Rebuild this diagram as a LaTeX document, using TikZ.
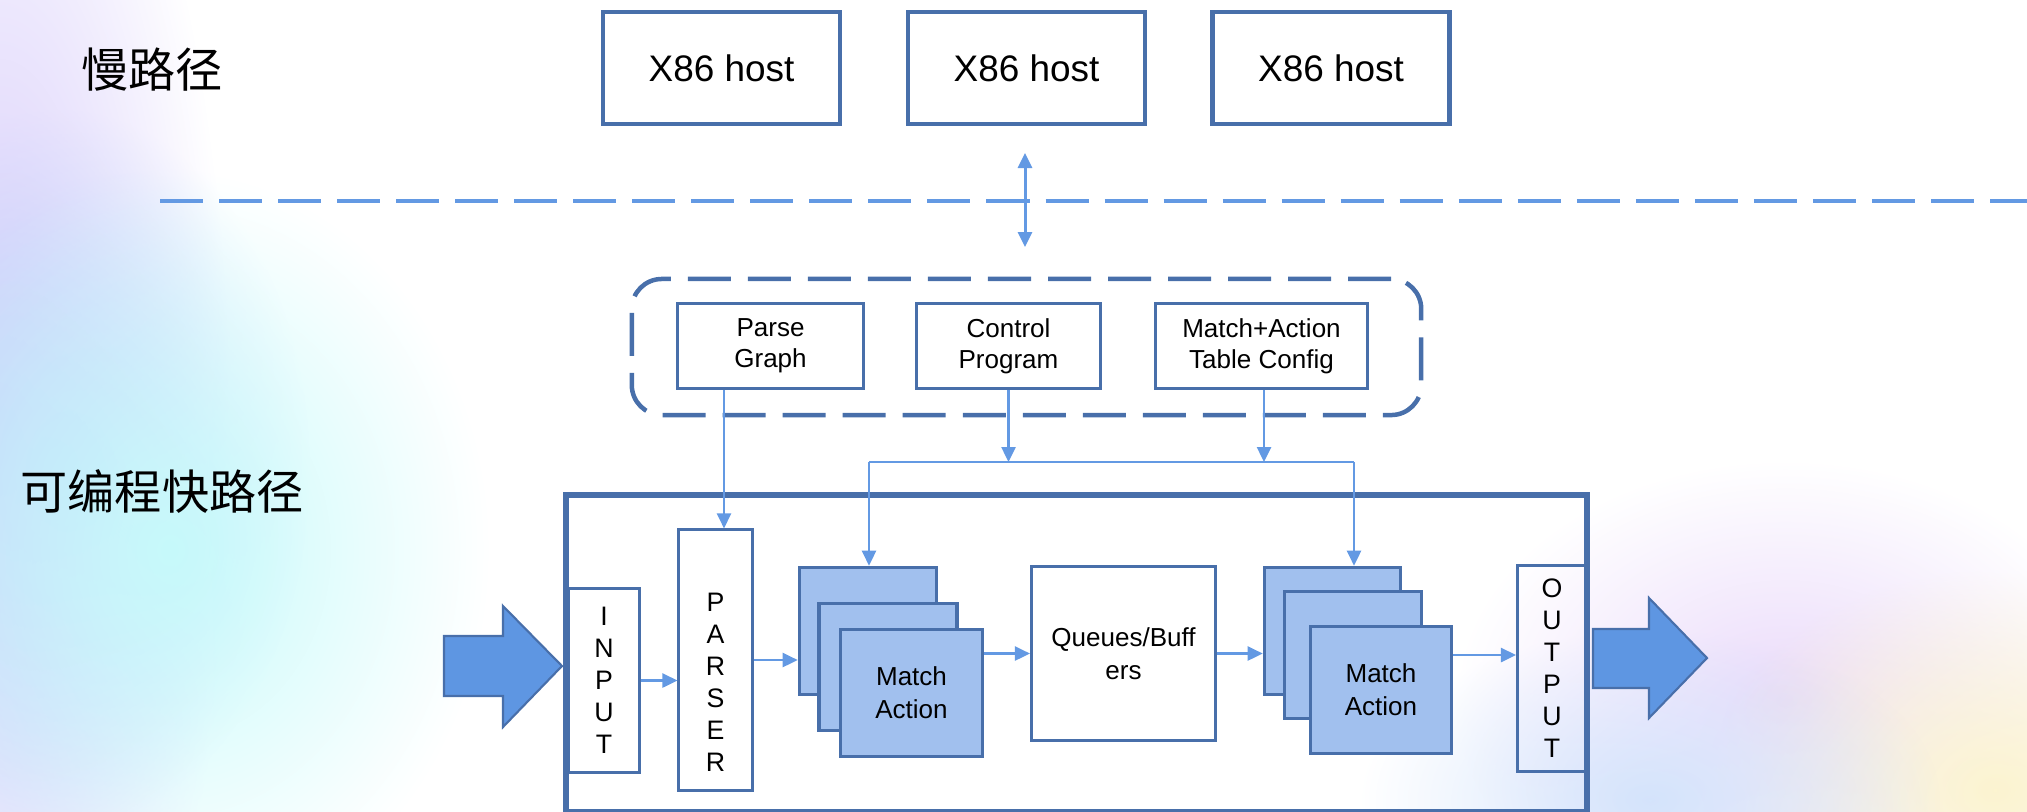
\documentclass[tikz,border=0pt]{standalone}
\usepackage{fontspec}
\setmainfont{Liberation Sans}
\newfontfamily\cjk{Noto Sans CJK SC}
\usetikzlibrary{arrows.meta,fadings}
\tikzfading[name=softblob, inner color=transparent!0, outer color=transparent!100]
\tikzset{flowtip/.tip={Triangle[length=0.15cm,width=0.14cm]}}

\definecolor{frameblue}{RGB}{72,111,170}
\definecolor{linkblue}{RGB}{99,153,227}
\definecolor{cardblue}{RGB}{161,192,238}
\definecolor{bigarrow}{RGB}{94,150,226}

\begin{document}
\begin{tikzpicture}[x=0.01cm,y=-0.01cm,
  haze/.style={path fading=softblob, draw=none},
  title/.style={font=\cjk\fontsize{13.4}{16}\selectfont, inner sep=0pt},
  hostbox/.style={draw=frameblue, line width=1.25pt, minimum width=2.37cm,
    minimum height=1.12cm, inner sep=0pt, font=\fontsize{10.5}{12}\selectfont},
  cfgbox/.style={draw=frameblue, line width=0.95pt, minimum height=0.85cm,
    inner sep=0pt, align=center, font=\fontsize{7.4}{8.8}\selectfont},
  unitbox/.style={draw=frameblue, line width=0.85pt, inner sep=0pt,
    align=center, font=\fontsize{7.4}{9.5}\selectfont},
  card/.style={draw=frameblue, line width=1pt, fill=cardblue, minimum height=1.27cm,
    inner sep=0pt, align=center, font=\fontsize{7.4}{9.3}\selectfont},
  letters/.style={font=\fontsize{7.6}{9.1}\selectfont, align=center, inner sep=0pt},
  conn/.style={draw=linkblue, line width=0.7pt, -{flowtip}},
  link/.style={draw=linkblue, line width=0.7pt},
  blockarrow/.style={fill=bigarrow, draw=frameblue, line width=0.6pt, line join=miter}
]
\useasboundingbox (0,0) rectangle (2027,811);

% soft background tint of the slide
\fill[haze, color={rgb,255:red,212;green,200;blue,250}] (0,440) ellipse (230 and 760);
\fill[haze, color={rgb,255:red,196;green,218;blue,252}] (60,470) ellipse (250 and 360);
\fill[haze, color={rgb,255:red,198;green,250;blue,250}] (170,550) ellipse (320 and 380);
\fill[haze, color={rgb,255:red,234;green,218;blue,250}] (1785,700) ellipse (330 and 240);
\fill[haze, color={rgb,255:red,252;green,244;blue,208}] (1995,790) ellipse (290 and 220);
\fill[haze, color={rgb,255:red,212;green,228;blue,252}] (1650,800) ellipse (290 and 170);

% section titles
\node[title] (slow) at (152,70) {慢路径};
\node[title] (fast) at (162,492) {可编程快路径};

% slow path hosts
\node[hostbox] (h1) at (721.5,68) {X86 host};
\node[hostbox] (h2) at (1026.5,68) {X86 host};
\node[hostbox] (h3) at (1331,68) {X86 host};

% divider between slow and fast path
\coordinate (divl) at (160,201);
\coordinate (divr) at (2027,201);
\draw[linkblue, line width=1.28pt, dash pattern=on 0.43cm off 0.16cm] (divl) -- (divr);

% link across the divider
\coordinate (syncT) at (1025,153);
\coordinate (syncB) at (1025,247);
\draw[link, line width=0.85pt, {flowtip}-{flowtip}] (syncB) -- (syncT);

% control plane configuration
\node[draw=frameblue, line width=1.28pt, rounded corners=0.3cm,
  dash pattern=on 0.43cm off 0.17cm, minimum width=7.89cm, minimum height=1.36cm,
  inner sep=0pt] (cfg) at (1026.5,347) {};
\node[cfgbox, minimum width=1.86cm] (pg) at (770.5,346) {Parse\\Graph};
\node[cfgbox, minimum width=1.84cm] (cp) at (1008.5,346) {Control\\Program};
\node[cfgbox, minimum width=2.12cm] (mt) at (1261.5,346) {Match+Action\\Table Config};

% programmable switch pipeline
\node[draw=frameblue, line width=1.56pt, minimum width=10.2cm, minimum height=3.17cm,
  inner sep=0pt] (chip) at (1076.5,653.5) {};

\node[unitbox, minimum width=0.7cm, minimum height=1.83cm, letters] (input) at (604,680.5)
  {I\\N\\P\\U\\T};
\node[unitbox, minimum width=0.73cm, minimum height=2.6cm,
  label={[letters, yshift=-0.22cm]center:P\\A\\R\\S\\E\\R}] (parser) at (715.5,660) {};

\node[card, minimum width=1.37cm] (ma1a) at (868,631) {};
\node[card, minimum width=1.38cm] (ma1b) at (888,667) {};
\node[card, minimum width=1.42cm] (ma1c) at (911.5,693) {Match\\Action};

\node[unitbox, minimum width=1.84cm, minimum height=1.74cm] (queues) at (1123.5,653.5)
  {Queues/Buff\\ers};

\node[card, minimum width=1.36cm] (ma2a) at (1332.5,631) {};
\node[card, minimum width=1.37cm] (ma2b) at (1353,655) {};
\node[card, minimum width=1.41cm] (ma2c) at (1381,690) {Match\\Action};

\node[unitbox, minimum width=0.69cm, minimum height=2.06cm, letters] (output) at (1552,668.5)
  {O\\U\\T\\P\\U\\T};

% packets in and out
\draw[blockarrow] (444,636) -- (503,636) -- (503,606) -- (562,666) -- (503,727)
  -- (503,696) -- (444,696) -- cycle;
\draw[blockarrow] (1593,629) -- (1649,629) -- (1649,598) -- (1707,658) -- (1649,718)
  -- (1649,688) -- (1593,688) -- cycle;

% configuration links
\coordinate (busl) at (869,462);
\coordinate (busr) at (1354,462);
\draw[conn] (724,0 |- pg.south) -- (724,0 |- parser.north);
\draw[conn] (cp.south) -- (cp.south |- busl);
\draw[conn] (1264,0 |- mt.south) -- (1264,0 |- busl);
\draw[link] (busl) -- (busr);
\draw[conn] (busl) -- (busl |- ma1a.north);
\draw[conn] (busr) -- (busr |- ma2a.north);

% packet flow through the pipeline
\draw[conn] (input.east) -- (input.east -| parser.west);
\draw[conn] (parser.east) -- (parser.east -| ma1a.west);
\draw[conn] (queues.west -| ma1c.east) -- (queues.west);
\draw[conn] (queues.east) -- (queues.east -| ma2a.west);
\draw[conn] (ma2c.east |- 0,655) -- (output.west |- 0,655);
\end{tikzpicture}
\end{document}
